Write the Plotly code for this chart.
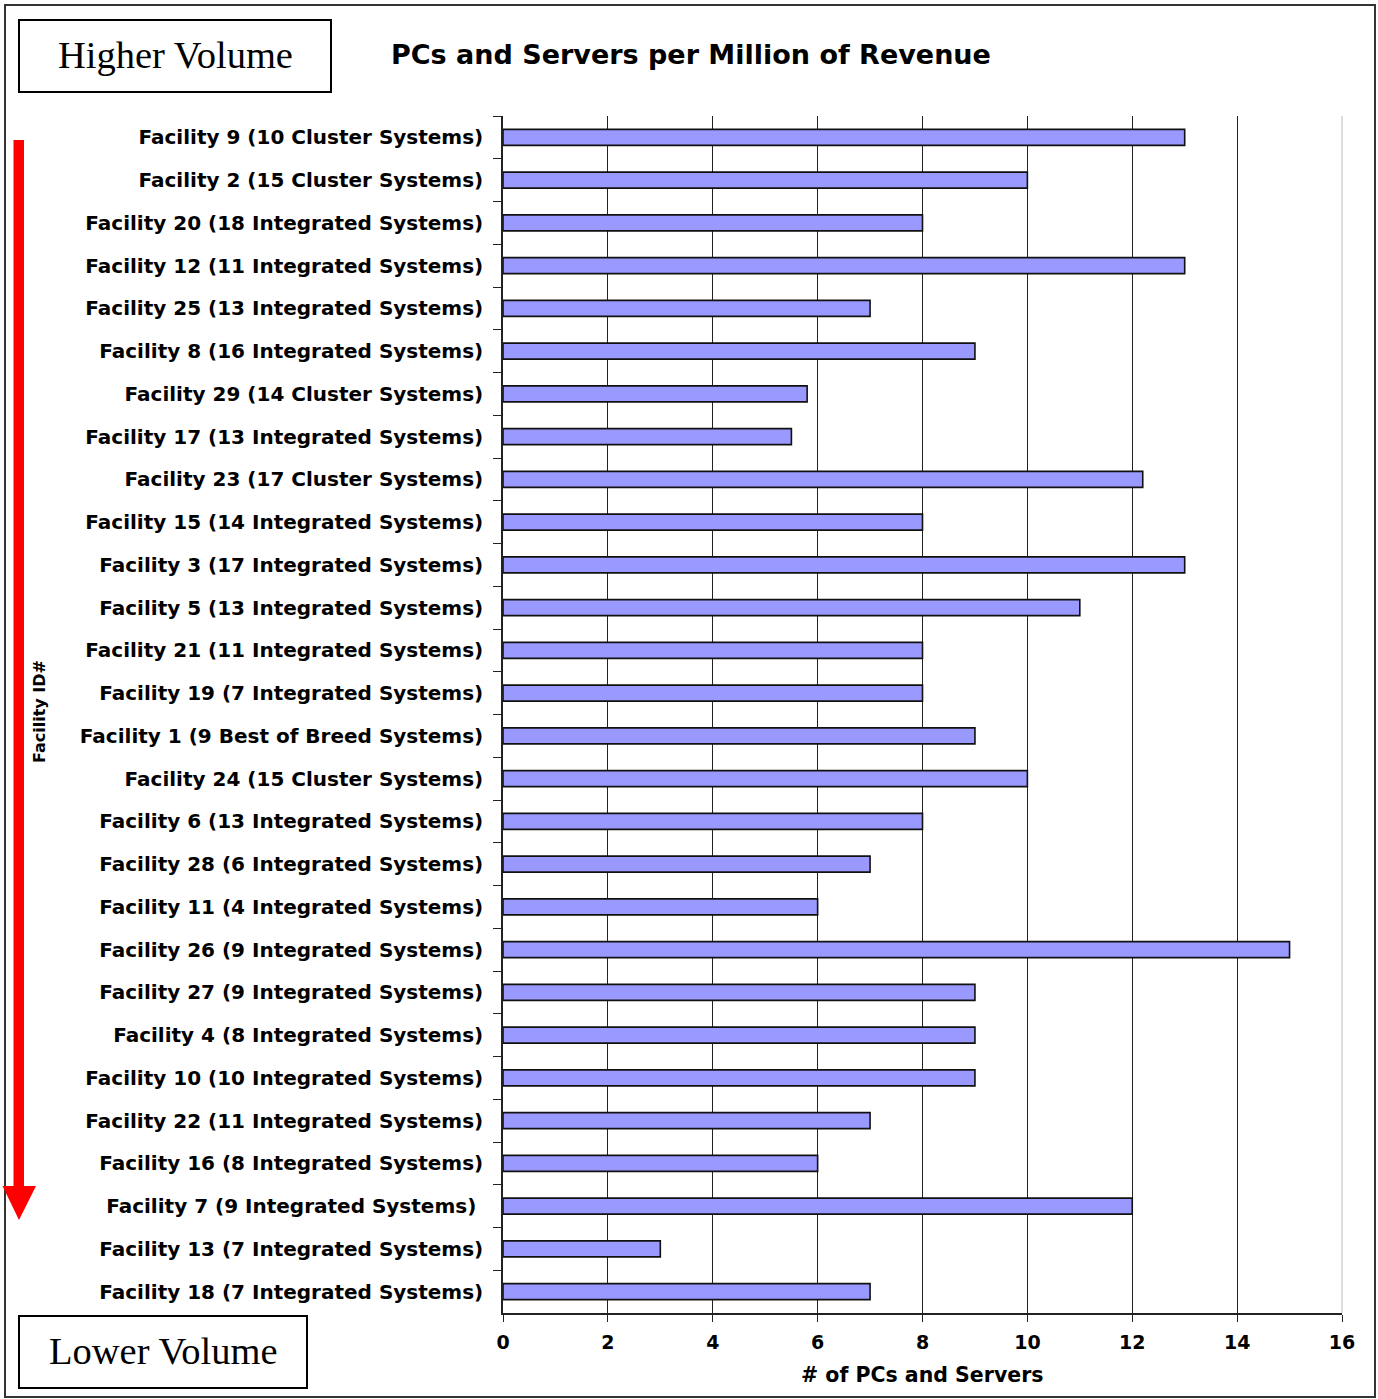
import plotly.graph_objects as go

# Facilities ordered from higher to lower volume (top to bottom)
facilities = [
    "Facility 9 (10 Cluster Systems)",
    "Facility 2 (15 Cluster Systems)",
    "Facility 20 (18 Integrated Systems)",
    "Facility 12 (11 Integrated Systems)",
    "Facility 25 (13 Integrated Systems)",
    "Facility 8 (16 Integrated Systems)",
    "Facility 29 (14 Cluster Systems)",
    "Facility 17 (13 Integrated Systems)",
    "Facility 23 (17 Cluster Systems)",
    "Facility 15 (14 Integrated Systems)",
    "Facility 3 (17 Integrated Systems)",
    "Facility 5 (13 Integrated Systems)",
    "Facility 21 (11 Integrated Systems)",
    "Facility 19 (7 Integrated Systems)",
    "Facility 1 (9 Best of Breed Systems)",
    "Facility 24 (15 Cluster Systems)",
    "Facility 6 (13 Integrated Systems)",
    "Facility 28 (6 Integrated Systems)",
    "Facility 11 (4 Integrated Systems)",
    "Facility 26 (9 Integrated Systems)",
    "Facility 27 (9 Integrated Systems)",
    "Facility 4 (8 Integrated Systems)",
    "Facility 10 (10 Integrated Systems)",
    "Facility 22 (11 Integrated Systems)",
    "Facility 16 (8 Integrated Systems)",
    "Facility 7 (9 Integrated Systems)\u00a0",
    "Facility 13 (7 Integrated Systems)",
    "Facility 18 (7 Integrated Systems)",
]

pcs_servers = [13, 10, 8, 13, 7, 9, 5.8, 5.5, 12.2, 8, 13, 11, 8, 8, 9,
               10, 8, 7, 6, 15, 9, 9, 9, 7, 6, 12, 3, 7]

x_ticks = [0, 2, 4, 6, 8, 10, 12, 14, 16]

W, H = 1378, 1399
L, R, T, B = 503, 1342, 116, 1313


def px(x):
    return (x - L) / (R - L)


def py(y):
    return (B - y) / (B - T)


BOLD = "DejaVu Sans"

fig = go.Figure(
    go.Bar(
        x=pcs_servers,
        y=facilities,
        orientation="h",
        width=0.375,
        marker=dict(color="#9999FF", line=dict(color="#111111", width=1.6)),
        hoverinfo="x+y",
    )
)

fig.update_layout(
    width=W,
    height=H,
    margin=dict(l=L, r=W - R, t=T, b=H - B),
    paper_bgcolor="white",
    plot_bgcolor="white",
    showlegend=False,
    xaxis=dict(
        range=[0, 16],
        tickvals=x_ticks,
        ticktext=[str(v) for v in x_ticks],
        showgrid=True,
        gridcolor="#222222",
        gridwidth=1,
        zeroline=False,
        showline=True,
        linecolor="#222222",
        linewidth=1.5,
        ticks="outside",
        ticklen=7,
        tickcolor="#222222",
        ticklabelstandoff=4,
        tickfont=dict(family=BOLD, size=19, color="black", weight="bold"),
    ),
    yaxis=dict(
        type="category",
        autorange="reversed",
        showgrid=False,
        zeroline=False,
        showline=True,
        linecolor="#222222",
        linewidth=1.5,
        ticks="outside",
        tickson="boundaries",
        ticklen=8,
        tickcolor="#222222",
        ticklabelstandoff=14,
        tickfont=dict(family=BOLD, size=20, color="black", weight="bold"),
    ),
)

shapes = [
    # outer frame
    dict(type="rect", xref="paper", yref="paper",
         x0=px(5), x1=px(1375), y0=py(1397), y1=py(5),
         line=dict(color="#333333", width=2), layer="below"),
    # right edge of the plot area
    dict(type="line", xref="paper", yref="paper",
         x0=1, x1=1, y0=0, y1=1,
         line=dict(color="#dddddd", width=2), layer="above"),
    # volume boxes
    dict(type="rect", xref="paper", yref="paper",
         x0=px(19), x1=px(331), y0=py(92), y1=py(20),
         line=dict(color="black", width=2)),
    dict(type="rect", xref="paper", yref="paper",
         x0=px(19), x1=px(307), y0=py(1388), y1=py(1316),
         line=dict(color="black", width=2)),
    # downward arrow: shaft and head
    dict(type="rect", xref="paper", yref="paper",
         x0=px(13.5), x1=px(24), y0=py(1188), y1=py(140),
         fillcolor="#FF0000", line=dict(width=0)),
    dict(type="path", xref="paper", yref="paper",
         path=f"M {px(2.5)},{py(1186)} L {px(36)},{py(1186)} L {px(19)},{py(1220)} Z",
         fillcolor="#FF0000", line=dict(width=0)),
]
fig.update_layout(shapes=shapes)

annotations = [
    dict(text="<b>PCs and Servers per Million of Revenue</b>",
         x=px(691), y=py(55), xref="paper", yref="paper",
         showarrow=False, xanchor="center", yanchor="middle",
         font=dict(family=BOLD, size=27, color="black")),
    dict(text="Higher Volume", x=px(175), y=py(55), xref="paper", yref="paper",
         showarrow=False, xanchor="center", yanchor="middle",
         font=dict(family="Liberation Serif", size=38.5, color="black")),
    dict(text="Lower Volume", x=px(163), y=py(1351), xref="paper", yref="paper",
         showarrow=False, xanchor="center", yanchor="middle",
         font=dict(family="Liberation Serif", size=38.5, color="black")),
    dict(text="<b># of PCs and Servers</b>", x=px(922), y=py(1375),
         xref="paper", yref="paper", showarrow=False,
         xanchor="center", yanchor="middle",
         font=dict(family=BOLD, size=20.5, color="black")),
    dict(text="<b>Facility ID#</b>", x=px(39), y=py(712),
         xref="paper", yref="paper", showarrow=False, textangle=-90,
         xanchor="center", yanchor="middle",
         font=dict(family=BOLD, size=16, color="black")),
]
fig.update_layout(annotations=annotations)

fig.write_html("out.html")
